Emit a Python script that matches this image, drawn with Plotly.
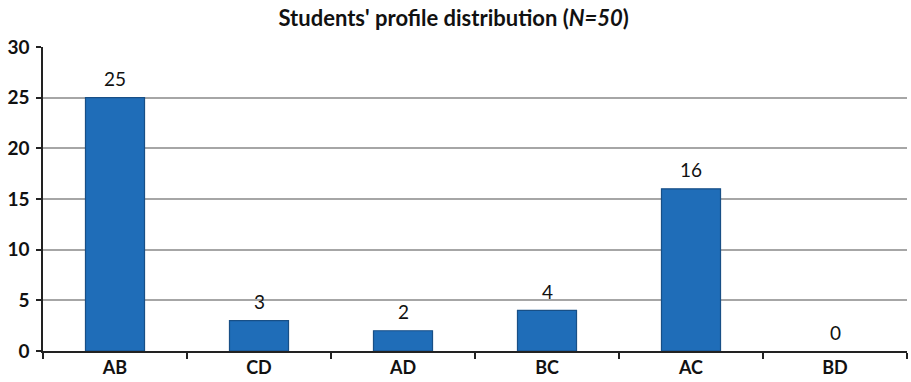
import plotly.graph_objects as go

categories = ["AB", "CD", "AD", "BC", "AC", "BD"]
values = [25, 3, 2, 4, 16, 0]
y_ticks = [0, 5, 10, 15, 20, 25, 30]

FONT = "Lato, Open Sans, sans-serif"

fig = go.Figure()
fig.add_trace(go.Bar(
    x=categories,
    y=values,
    width=0.41,
    marker=dict(
        color="#1f6db8",
        line=dict(color="#184f86", width=[1.2 if v > 0 else 0 for v in values]),
    ),
    hoverinfo="x+y",
))

for c, v in zip(categories, values):
    fig.add_annotation(
        x=c, y=v, text=str(v), showarrow=False,
        yanchor="middle", yshift=19,
        font=dict(family=FONT, size=19, color="#111111"),
    )

fig.update_layout(
    width=911, height=382,
    margin=dict(l=43, r=4, t=47, b=31),
    paper_bgcolor="white",
    plot_bgcolor="white",
    showlegend=False,
    title=dict(
        text="<b>Students' profile distribution (<i>N=50</i>)</b>",
        x=0.498, xanchor="center", y=0.952, yanchor="middle",
        font=dict(family=FONT, size=22, color="#111111"),
    ),
    font=dict(family=FONT, color="#111111"),
)
fig.update_xaxes(
    showline=True, linecolor="#222222", linewidth=1.5,
    ticks="outside", tickson="boundaries", ticklen=6, tickcolor="#222222", tickwidth=1.5,
    tickfont=dict(size=18, family=FONT, color="#111111"),
    tickprefix="<b>", ticksuffix="</b>",
    showgrid=False,
)
fig.update_yaxes(
    range=[0, 30], tickvals=y_ticks,
    ticktext=["<b>%d</b>" % t for t in y_ticks],
    showline=True, linecolor="#222222", linewidth=1.5,
    ticks="outside", ticklen=5, tickcolor="#222222", tickwidth=1.5,
    ticklabelstandoff=3,
    tickfont=dict(size=19, family=FONT, color="#111111"),
    showgrid=True, gridcolor="#a6a6a6", gridwidth=1.5,
    zeroline=False,
)

fig.write_html("out.html")
